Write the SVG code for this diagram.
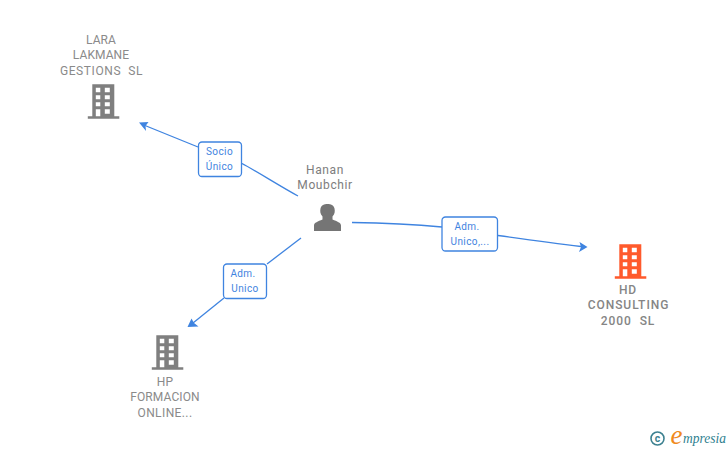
<svg xmlns="http://www.w3.org/2000/svg" width="728" height="450" viewBox="0 0 728 450">
<style>
.n{font:400 12px Roboto,"Liberation Sans",sans-serif;fill:#8a8a8a;text-anchor:middle;letter-spacing:.1px}
.h{font:500 12px Roboto,"Liberation Sans",sans-serif;fill:#858585;text-anchor:middle;letter-spacing:.95px}
.p{font:400 12px Roboto,"Liberation Sans",sans-serif;fill:#7d7d7d;text-anchor:middle;letter-spacing:.6px}
.l{font:400 10px Roboto,"Liberation Sans",sans-serif;fill:#3f84e0;text-anchor:middle;letter-spacing:.4px}
.b{fill:#fff;stroke:#3f84e0;stroke-width:1.3}
.c{fill:none;stroke:#3f84e0;stroke-width:1.3}
.a{fill:#3f84e0}
</style>
<defs>
<g id="bld">
<path fill-rule="evenodd" d="M4.500 0H26.500V32H31.500V34.500H0V32H4.500ZM8 3.500V8H12.500V3.500ZM17 3.500V8H22V3.500ZM8 11V15H12.500V11ZM17 11V15H22V11ZM8 18V22H12.500V18ZM17 18V22H22V18ZM8 25V32H12.500V25ZM17 25V29.500H22V25Z"/>
</g>
</defs>
<g id="connectors">
<path class="c" d="M298 196C278 185 258 172 241 163"/>
<path class="c" d="M198 147L145 125.500"/>
<path class="a" d="M139 122.500L148.500 122L145.500 126L146 131Z"/>
<path class="c" d="M352 222.500C385 223 415 224.500 442 227"/>
<path class="c" d="M498 235.500C530 240 560 244 581 246.500"/>
<path class="a" d="M587.500 247L579.500 242L581 247L579 252Z"/>
<path class="c" d="M301 238L267 264"/>
<path class="c" d="M224 298L193 323"/>
<path class="a" d="M187.500 327L191.500 318.500L194 323L198.500 326.500Z"/>
</g>
<g id="edge-socio"><rect class="b" x="198.500" y="142" width="43" height="34.500" rx="3.500"/><text class="l" x="219.500" y="155">Socio</text><text class="l" x="219.500" y="170">Único</text></g>
<g id="edge-adm1"><rect class="b" x="442" y="217" width="55.500" height="34" rx="3.500"/><text class="l" x="467" y="230">Adm.</text><text class="l" x="470" y="245">Unico,...</text></g>
<g id="edge-adm2"><rect class="b" x="223.500" y="264" width="43" height="34.500" rx="3.500"/><text class="l" x="243" y="277">Adm.</text><text class="l" x="245" y="292">Unico</text></g>
<g id="node-lara"><use href="#bld" x="87.800" y="84.300" fill="#7f7f7f"/><text class="n" x="101" y="44">LARA</text><text class="n" x="101" y="59">LAKMANE</text><text class="n" x="101.500" y="74.500" xml:space="preserve" style="letter-spacing:.6px">GESTIONS  SL</text></g>
<g id="node-hanan"><text class="p" x="325" y="174">Hanan</text><text class="p" x="325" y="189">Moubchir</text><path fill="#757575" d="M314 231V225.500C314 222.500 318 221.500 322.500 219.500V216.500C320 214 320 211 320.500 208.500C321.500 205 324 204 327.500 204C331 204 333.500 205 334.500 208.500C335 211 335 214 332.500 216.500V219.500C337 221.500 341 222.500 341 225.500V231Z"/></g>
<g id="node-hd"><use href="#bld" x="614.800" y="244.300" fill="#ff5a2c"/><text class="h" x="628" y="294">HD</text><text class="h" x="628.500" y="309">CONSULTING</text><text class="h" x="628" y="324.500" xml:space="preserve">2000  SL</text></g>
<g id="node-hp"><use href="#bld" x="151.800" y="335.300" fill="#7f7f7f"/><text class="n" x="165" y="386">HP</text><text class="n" x="165" y="401">FORMACION</text><text class="n" x="165" y="416.500" style="letter-spacing:.4px">ONLINE...</text></g>
<g id="logo"><circle cx="657.500" cy="438.500" r="6.500" fill="none" stroke="#3d8190" stroke-width="1.600"/><text x="657.500" y="442" font-family="Roboto,sans-serif" font-size="10.500" font-weight="700" fill="#3d8190" text-anchor="middle">c</text><text x="670.500" y="444" font-family="'Liberation Serif',serif" font-style="italic" font-size="27" fill="#f08a1d">e</text><text x="683" y="443" font-family="'Liberation Serif',serif" font-style="italic" font-size="14.500" fill="#2f7f8f" textLength="43" lengthAdjust="spacingAndGlyphs">mpresia</text></g>
</svg>
